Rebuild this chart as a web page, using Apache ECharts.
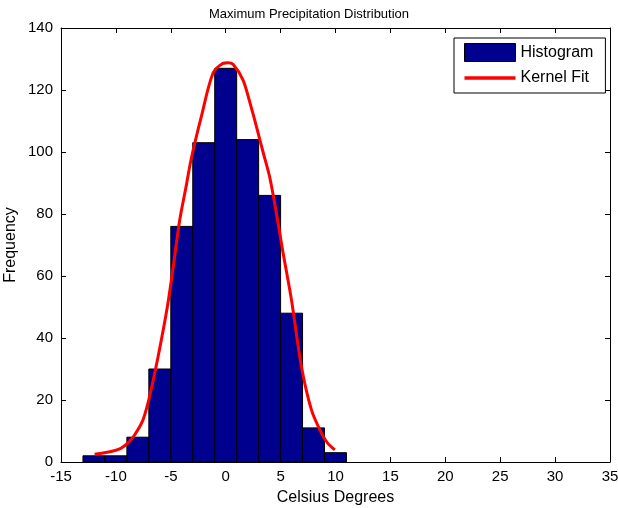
<!DOCTYPE html>
<html><head><meta charset="utf-8">
<script src="https://cdn.jsdelivr.net/npm/echarts@6/dist/echarts.min.js"></script>
<style>html,body{margin:0;padding:0;background:#fff}#c{width:618px;height:508px}</style>
</head><body><div id="c"></div>
<script>
const binCenters = [-12, -10, -8, -6, -4, -2, 0, 2, 4, 6, 8, 10];
const binWidth = 2;
const counts = [2, 2, 8, 30, 76, 103, 127, 104, 86, 48, 11, 3];
const kdeX = [-11.94,-11.03,-10,-9.5,-8.8,-8.3,-7.6,-7.08,-6.47,-5.86,-5.26,-4.7,-4.19,-3.6,-3.13,-2.22,-1.16,-0.25,0.2,0.67,1.58,2.2,2.8,3.4,4.0,4.62,5.2,5.99,6.9,7.81,8.72,9.3,9.94];
const kdeY = [2.5,3,3.8,4.5,6.5,8.7,13,19,28.6,39.4,51.2,65,78,89,98,111.4,125.4,128.6,128.8,128.3,123.2,116,108.2,100,92,80.2,68,52.3,30.7,16.8,9.3,6,3.9];
const xTicks = {min: -15, max: 35, step: 5};
const yTicks = {min: 0, max: 140, step: 20};

const font = 'Liberation Sans, Arial, sans-serif';
const chart = echarts.init(document.getElementById('c'), null, {renderer: 'canvas'});
const histData = binCenters.map((c, i) => [c - binWidth / 2, c + binWidth / 2, counts[i]]);
const kdeData = kdeX.map((x, i) => [x, kdeY[i]]);

function axisCommon() {
  return {
    axisLine: {show: true, onZero: false, lineStyle: {color: '#000', width: 1}},
    axisTick: {show: true, inside: true, length: 5, lineStyle: {color: '#000'}},
    splitLine: {show: false}
  };
}

chart.setOption({
  animation: false,
  backgroundColor: '#fff',
  title: {
    text: 'Maximum Precipitation Distribution', left: 'center', top: 3,
    textStyle: {fontFamily: font, fontSize: 13, fontWeight: 'normal', color: '#000'}
  },
  grid: {left: 61, right: 8, top: 28, bottom: 46, containLabel: false, outerBoundsMode: 'none'},
  legend: {
    orient: 'vertical', left: 454, top: 38,
    backgroundColor: '#fff', borderColor: '#000', borderWidth: 1,
    padding: [5, 12, 7, 10], itemGap: 8, itemWidth: 51, itemHeight: 18,
    textStyle: {fontFamily: font, fontSize: 16, color: '#000'},
    data: [
      {name: 'Histogram', icon: 'rect', itemStyle: {color: '#00008F', borderColor: '#000', borderWidth: 1}},
      {name: 'Kernel Fit', icon: 'path://M0,0L51,0L51,3.3L0,3.3Z', itemStyle: {color: '#FF0000', borderWidth: 0}}
    ]
  },
  xAxis: [
    Object.assign(axisCommon(), {
      type: 'value', position: 'bottom', min: xTicks.min, max: xTicks.max, interval: xTicks.step,
      name: 'Celsius Degrees', nameLocation: 'middle', nameGap: 28, nameMoveOverlap: false,
      nameTextStyle: {fontFamily: font, fontSize: 16, color: '#000'},
      axisLabel: {fontFamily: font, fontSize: 15, color: '#000', margin: 7}
    }),
    Object.assign(axisCommon(), {
      type: 'value', position: 'top', min: xTicks.min, max: xTicks.max, interval: xTicks.step,
      axisLabel: {show: false}
    })
  ],
  yAxis: [
    Object.assign(axisCommon(), {
      type: 'value', position: 'left', min: yTicks.min, max: yTicks.max, interval: yTicks.step,
      name: 'Frequency', nameLocation: 'middle', nameGap: 42, nameMoveOverlap: false,
      nameTextStyle: {fontFamily: font, fontSize: 16, color: '#000'},
      axisLabel: {fontFamily: font, fontSize: 15, color: '#000', margin: 8}
    }),
    Object.assign(axisCommon(), {
      type: 'value', position: 'right', min: yTicks.min, max: yTicks.max, interval: yTicks.step,
      axisLabel: {show: false}
    })
  ],
  series: [
    {
      name: 'Histogram', type: 'custom', xAxisIndex: 0, yAxisIndex: 0,
      itemStyle: {color: '#00008F'},
      encode: {x: [0, 1], y: 2},
      data: histData,
      renderItem: function (params, api) {
        const p0 = api.coord([api.value(0), api.value(2)]);
        const p1 = api.coord([api.value(1), 0]);
        return {
          type: 'rect',
          shape: {x: p0[0], y: p0[1], width: p1[0] - p0[0], height: p1[1] - p0[1]},
          style: {fill: '#00008F', stroke: '#000', lineWidth: 1}
        };
      }
    },
    {
      name: 'Kernel Fit', type: 'line', xAxisIndex: 0, yAxisIndex: 0,
      data: kdeData, smooth: 0.3, symbol: 'none', showSymbol: false,
      itemStyle: {color: '#FF0000'},
      lineStyle: {color: '#FF0000', width: 3}
    }
  ]
});
</script>
</body></html>
